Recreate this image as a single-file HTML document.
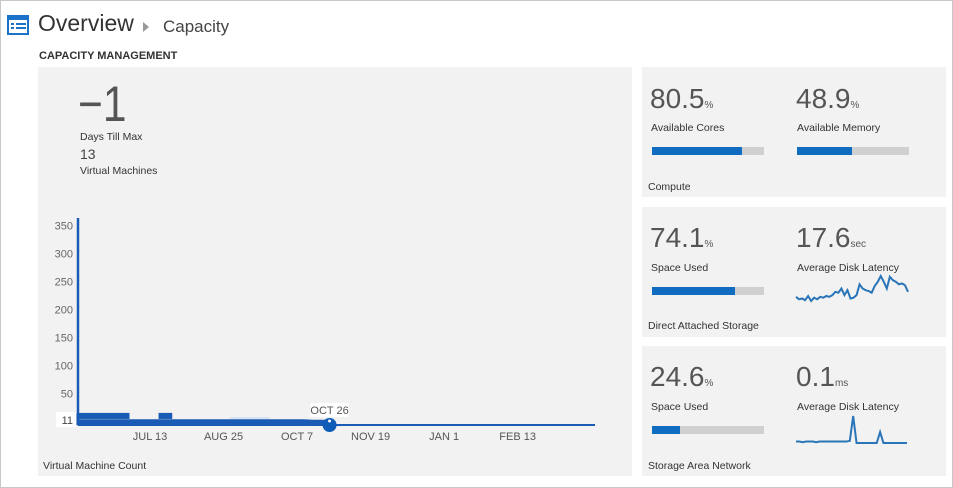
<!DOCTYPE html>
<html><head><meta charset="utf-8">
<style>
body{margin:0;width:953px;height:488px;background:#fff;font-family:"Liberation Sans",sans-serif;position:relative;overflow:hidden;color:#333}
.frame{position:absolute;left:0;top:0;width:951px;height:486px;border:1px solid #c8c8c8}
.abs{position:absolute;white-space:nowrap}
.panel{position:absolute;background:#f2f2f2}
.big{font-size:28px;color:#555;font-weight:300}
.unit{font-size:10px;color:#555}
.lbl{font-size:10.5px;color:#333}
.bar{position:absolute;height:8px;background:#d0d0d0}
.bar div{height:100%;background:#0f6cc0}
#chart{z-index:2}
</style></head><body>
<div class="frame"></div>
<svg class="abs" style="left:7px;top:15px" width="22" height="20">
<rect x="1" y="1" width="20" height="18" fill="none" stroke="#1a73c8" stroke-width="2"/>
<rect x="1" y="1" width="20" height="4" fill="#1a73c8"/>
<rect x="4" y="8" width="3" height="2" fill="#1a73c8"/><rect x="9" y="8" width="10" height="2" fill="#1a73c8"/>
<rect x="4" y="12" width="3" height="2" fill="#1a73c8"/><rect x="9" y="12" width="10" height="2" fill="#1a73c8"/>
</svg>
<div class="abs" style="left:38px;top:10px;font-size:23px;color:#333;font-weight:300">Overview</div>
<div class="abs" style="left:143px;top:22px;width:0;height:0;border-left:6px solid #999;border-top:5px solid transparent;border-bottom:5px solid transparent"></div>
<div class="abs" style="left:163px;top:17px;font-size:17px;color:#444;font-weight:300">Capacity</div>
<div class="abs" style="left:39px;top:50px;font-size:11px;font-weight:bold;color:#333">CAPACITY MANAGEMENT</div>

<div class="panel" style="left:38px;top:67px;width:594px;height:409px"></div>
<div class="abs" style="left:78px;top:76px;font-size:50px;color:#555;font-weight:300;line-height:56px;transform:scaleX(0.85);transform-origin:left">−1</div>
<div class="abs lbl" style="left:80px;top:131px">Days Till Max</div>
<div class="abs" style="left:80px;top:146px;font-size:14px;color:#444">13</div>
<div class="abs lbl" style="left:80px;top:165px">Virtual Machines</div>
<div class="abs lbl" style="left:43px;top:460px">Virtual Machine Count</div>

<div class="panel" style="left:642px;top:67px;width:304px;height:130px"></div>
<div class="abs big" style="left:650px;top:83px">80.5<span class="unit">%</span></div>
<div class="abs lbl" style="left:651px;top:122px">Available Cores</div>
<div class="bar" style="left:652px;top:147px;width:112px"><div style="width:80.5%"></div></div>
<div class="abs big" style="left:796px;top:83px">48.9<span class="unit">%</span></div>
<div class="abs lbl" style="left:797px;top:122px">Available Memory</div>
<div class="bar" style="left:797px;top:147px;width:112px"><div style="width:48.9%"></div></div>
<div class="abs lbl" style="left:648px;top:181px">Compute</div>

<div class="panel" style="left:642px;top:207px;width:304px;height:130px"></div>
<div class="abs big" style="left:650px;top:222px">74.1<span class="unit">%</span></div>
<div class="abs lbl" style="left:651px;top:262px">Space Used</div>
<div class="bar" style="left:652px;top:287px;width:112px"><div style="width:74.1%"></div></div>
<div class="abs big" style="left:796px;top:222px">17.6<span class="unit">sec</span></div>
<div class="abs lbl" style="left:797px;top:262px">Average Disk Latency</div>
<div class="abs lbl" style="left:648px;top:320px">Direct Attached Storage</div>

<div class="panel" style="left:642px;top:346px;width:304px;height:130px"></div>
<div class="abs big" style="left:650px;top:361px">24.6<span class="unit">%</span></div>
<div class="abs lbl" style="left:651px;top:401px">Space Used</div>
<div class="bar" style="left:652px;top:426px;width:112px"><div style="width:24.6%"></div></div>
<div class="abs big" style="left:796px;top:361px">0.1<span class="unit">ms</span></div>
<div class="abs lbl" style="left:797px;top:401px">Average Disk Latency</div>
<div class="abs lbl" style="left:648px;top:460px">Storage Area Network</div>

<svg id="chart" class="abs" style="left:0;top:0" width="953" height="488"></svg>

<script>
const yTicks=[50,100,150,200,250,300,350];
const xTickDays=[0,43,86,129,172,215];
const xTickLabels=["JUL 13","AUG 25","OCT 7","NOV 19","JAN 1","FEB 13"];
const mainDays=[-43,90,95,105];
const mainVals=[5,5,4,4];
const bandStarts=[-43,5];
const bandEnds=[-12,13];
const bandVals=[22,22];
const currentDay=105;
const currentLabel="OCT 26";
const currentValue=11;
const lat1=[20,17,18,16,21,15,19,17,20,19,21,20,22,26,25,30,22,28,18,19,22,35,30,28,27,25,33,38,45,38,30,44,40,38,35,36,34,26];
const lat2=[5,5,4,5,5,5,4,5,5,5,5,5,5,5,5,5,6,40,3,3,3,3,3,3,3,18,3,3,3,3,3,3,3,3];

const NS="http://www.w3.org/2000/svg";
const svg=document.getElementById('chart');
function mk(t,a,parent){const e=document.createElementNS(NS,t);for(const k in a)e.setAttribute(k,a[k]);(parent||svg).appendChild(e);return e;}
const yS=v=>421.5-v*0.56;
const yB=v=>425-v*0.55;
const xS=d=>150+d*1.71;

const ya=mk('line',{x1:78,y1:218,x2:78,y2:425,stroke:'#1a5bb5','stroke-width':2.5});


yTicks.forEach(v=>{const t=mk('text',{x:73,y:yS(v)+4,'text-anchor':'end','font-size':11,fill:'#666','font-family':'Liberation Sans'});t.textContent=v;

});
mk('rect',{x:56,y:412,width:20,height:15,fill:'#fff'});
const cv=mk('text',{x:73,y:424,'text-anchor':'end','font-size':11,fill:'#444','font-family':'Liberation Sans'});cv.textContent=currentValue;


xTickDays.forEach((d,i)=>{const t=mk('text',{x:xS(d),y:440,'text-anchor':'middle','font-size':11,fill:'#555','font-family':'Liberation Sans'});t.textContent=xTickLabels[i];

});
bandStarts.forEach((s,i)=>{const r=mk('rect',{x:xS(s),y:yB(bandVals[i]),width:xS(bandEnds[i])-xS(s),height:yB(11)-yB(bandVals[i]),fill:'#1a5bb5'});

});
mk('rect',{x:xS(47),y:417,width:xS(70)-xS(47),height:2,fill:'#d6e4f2'});
mk('line',{x1:78,y1:425,x2:595,y2:425,stroke:'#1a5bb5','stroke-width':2});
let pts=mainDays.map((d,i)=>xS(d)+','+yB(mainVals[i])).join(' ');
const main=mk('polyline',{points:pts,fill:'none',stroke:'#1a5bb5','stroke-width':6});


mk('rect',{x:xS(currentDay)-19,y:403,width:38,height:14,fill:'#fff'});
const cl=mk('text',{x:xS(currentDay),y:414,'text-anchor':'middle','font-size':11,fill:'#555','font-family':'Liberation Sans'});cl.textContent=currentLabel;


const dot=mk('circle',{cx:xS(currentDay),cy:425,r:7,fill:'#0f5cb8'});


mk('circle',{cx:xS(currentDay),cy:421,r:1.5,fill:'#fff'});

function spark(arr,x0,x1,yBot,h,name){
 const mn=Math.min(...arr),mx=Math.max(...arr);
 const p=arr.map((v,i)=>(x0+i*(x1-x0)/(arr.length-1))+','+(yBot-(v-mn)/(mx-mn)*h)).join(' ');
 const l=mk('polyline',{points:p,fill:'none',stroke:'#2a75b8','stroke-width':2});
 
 
}
spark(lat1,796,908,301,25,'das-latency-sparkline');
spark(lat2,796,907,443,27,'san-latency-sparkline');
</script>
</body></html>
